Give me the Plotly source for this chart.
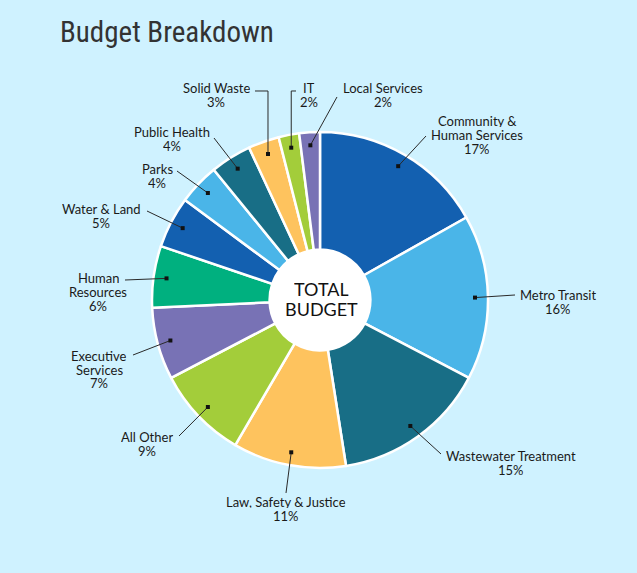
import math
import plotly.graph_objects as go

# ---- data ----
labels = ["Community &<br>Human Services", "Metro Transit", "Wastewater Treatment",
          "Law, Safety & Justice", "All Other", "Executive<br>Services",
          "Human<br>Resources", "Water & Land", "Parks", "Public Health",
          "Solid Waste", "IT", "Local Services"]
values = [17, 16, 15, 11, 9, 7, 6, 5, 4, 4, 3, 2, 2]
colors = ["#1360b0", "#4ab5e8", "#186e86", "#fec35e", "#a3cd3a", "#7872b5",
          "#00b07f", "#1360b0", "#4ab5e8", "#186e86", "#fec35e", "#a3cd3a", "#7872b5"]

# ---- layout constants (pixels) ----
W, H = 637, 573
CX, CY, R = 320, 300, 168
HOLE = 0.30
DOT_R = 155
LINE_H = 14
TXT_DY = -1

# label text block: (center x, first line y), leader line via points (ends at last)
label_pos = [(477, 122), (558, 295), (511, 456), (286, 502), (147, 437), (99, 356),
             (98, 278), (101, 209), (157, 169), (172, 132), (216, 89), (309, 89), (383, 89)]
leader_via = [[(426, 136)], [(515, 295)], [(441, 454)], [(286, 493)], [(179, 436)],
              [(133, 355)], [(125, 280)], [(147, 211)], [(177, 171)], [(214, 138)],
              [("dx", 91), (255, 91)], [("dx", 91), (296, 91)], [(337, 97)]]


def px(x):
    return x / W


def py(y):
    return 1 - y / H


fig = go.Figure()
fig.add_trace(go.Pie(
    labels=[l.replace("<br>", " ") for l in labels], values=values,
    marker=dict(colors=colors, line=dict(color="white", width=2.5)),
    hole=HOLE, sort=False, direction="clockwise", rotation=0,
    textinfo="none", showlegend=False,
    domain=dict(x=[px(CX - R), px(CX + R)], y=[py(CY + R), py(CY - R)]),
))

shapes = []
annotations = []

# white centre disk
hr = R * HOLE + 2
shapes.append(dict(type="circle", xref="paper", yref="paper", layer="below",
                   x0=px(CX - hr), x1=px(CX + hr), y0=py(CY + hr), y1=py(CY - hr),
                   fillcolor="white", line=dict(width=0)))

total = sum(values)
cum = 0
for i, v in enumerate(values):
    ang = math.radians((cum + v / 2) / total * 360)
    cum += v
    dx = CX + DOT_R * math.sin(ang)
    dy = CY - DOT_R * math.cos(ang)
    pts = [(dx, dy)]
    for (a, b) in leader_via[i]:
        pts.append((dx if a == "dx" else a, b))
    path = "M " + " L ".join(f"{px(x):.5f},{py(y):.5f}" for x, y in pts)
    shapes.append(dict(type="path", xref="paper", yref="paper", layer="above",
                       path=path, line=dict(color="#2a2a2a", width=1)))
    s = 2
    shapes.append(dict(type="rect", xref="paper", yref="paper", layer="above",
                       x0=px(dx - s), x1=px(dx + s), y0=py(dy + s), y1=py(dy - s),
                       fillcolor="#111", line=dict(width=0)))
    lines = labels[i].split("<br>") + [f"{v}%"]
    lx, ly = label_pos[i]
    for k, t in enumerate(lines):
        annotations.append(dict(x=px(lx), y=py(ly + TXT_DY + k * LINE_H),
                                xref="paper", yref="paper",
                                text=t, showarrow=False, xanchor="center", yanchor="middle",
                                height=LINE_H - 1, valign="middle", borderpad=0,
                                font=dict(family="Lato", size=13, color="#1a1a1a")))

# centre text
for k, t in enumerate(["TOTAL", "BUDGET"]):
    annotations.append(dict(x=px(CX + 1), y=py(290 + TXT_DY + k * 20), xref="paper", yref="paper",
                            text=t, showarrow=False, xanchor="center", yanchor="middle",
                            height=18, valign="middle", borderpad=0,
                            font=dict(family="Lato", size=18, color="#111")))

# title
annotations.append(dict(x=px(58), y=py(32), xref="paper", yref="paper",
                        text="Budget Breakdown", showarrow=False, xanchor="left",
                        yanchor="middle",
                        font=dict(family="Roboto Condensed, Liberation Sans Narrow, Roboto",
                                  size=29, color="#333")))

fig.update_layout(width=W, height=H, margin=dict(l=0, r=0, t=0, b=0),
                  paper_bgcolor="#cff2ff", plot_bgcolor="#cff2ff",
                  shapes=shapes, annotations=annotations)

fig.write_html("out.html")
